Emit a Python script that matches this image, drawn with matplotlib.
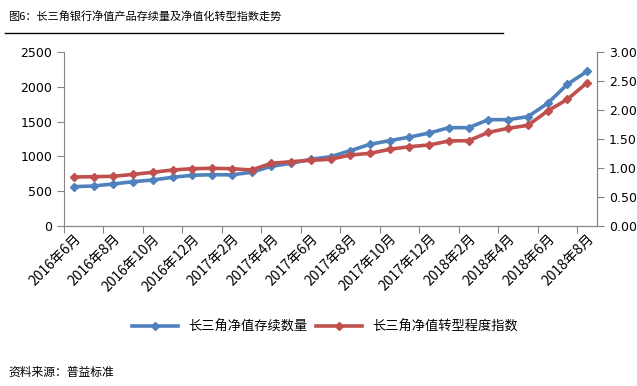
import matplotlib
matplotlib.use('Agg')
import matplotlib.pyplot as plt
from matplotlib.lines import Line2D

plt.rcParams['font.family'] = ['DejaVu Sans', 'Noto Sans CJK SC']

# Data (monthly, 2016-06 .. 2018-08)
months = []
for y, m0, m1 in [(2016, 6, 12), (2017, 1, 12), (2018, 1, 8)]:
    for m in range(m0, m1 + 1):
        months.append(f'{y}年{m}月')

stock_count = [565, 575, 604, 637, 661, 700, 729, 737, 735, 772, 858, 901, 958,
               996, 1082, 1174, 1226, 1278, 1336, 1413, 1413, 1528, 1528, 1571,
               1763, 2036, 2223]
transform_idx = [0.845, 0.85, 0.857, 0.89, 0.926, 0.966, 0.988, 0.995, 0.988,
                 0.966, 1.081, 1.109, 1.132, 1.15, 1.224, 1.253, 1.322, 1.368,
                 1.397, 1.466, 1.471, 1.615, 1.684, 1.736, 1.983, 2.184, 2.471]

blue = '#4F81BD'
red = '#C0504D'
gray = '#868686'
cjk = ['Noto Sans CJK SC', 'DejaVu Sans']

fig = plt.figure(figsize=(6.37, 3.86), dpi=100)
ax = fig.add_axes([64 / 637, 1 - 226 / 386, 533 / 637, 174 / 386])
ax2 = ax.twinx()

x = list(range(len(months)))
l1, = ax.plot(x, stock_count, color=blue, lw=2.6, marker='D', ms=4.5,
              label='长三角净值存续数量')
l2, = ax2.plot(x, transform_idx, color=red, lw=2.6, marker='D', ms=4.5,
               label='长三角净值转型程度指数')

ax.set_xlim(-0.5, len(months) - 0.5)
ax.set_ylim(0, 2500)
ax2.set_ylim(0, 3)
ax.set_yticks(range(0, 2501, 500))
ax2.set_yticks([0, 0.5, 1, 1.5, 2, 2.5, 3])
ax2.set_yticklabels([f'{v:.2f}' for v in [0, 0.5, 1, 1.5, 2, 2.5, 3]])

# category ticks between every two months, labels on every other month
ax.set_xticks([i - 0.5 for i in range(0, len(months) + 1, 2)])
ax.set_xticks(x[::2], minor=True)
ax.set_xticklabels([])
ax.set_xticklabels(months[::2], minor=True, rotation=45, ha='right',
                   rotation_mode='anchor', fontsize=10, family=cjk)
ax.tick_params(axis='x', which='minor', length=0, pad=4)
ax.tick_params(axis='x', which='major', length=5, color=gray)

for a in (ax, ax2):
    for s in a.spines.values():
        s.set_color(gray)
    a.spines['top'].set_visible(False)
    a.tick_params(axis='y', length=5, color=gray, labelsize=9)
ax2.spines['left'].set_visible(False)

fig.legend(handles=[l1, l2], loc='center', bbox_to_anchor=(0.51, 0.153),
           ncol=2, frameon=False, handlelength=3.5, columnspacing=0.6,
           prop={'family': cjk, 'size': 9.5})

fig.text(8 / 637, 1 - 16 / 386, '图6：长三角银行净值产品存续量及净值化转型指数走势',
         fontsize=8, family=cjk, va='center')
fig.add_artist(Line2D([5 / 637, 503 / 637], [1 - 33 / 386] * 2,
                      color='black', lw=1))
fig.text(8 / 637, 1 - 372 / 386, '资料来源：普益标准', fontsize=8.5,
         family=cjk, va='center')

fig.savefig('out.png', dpi=100)
